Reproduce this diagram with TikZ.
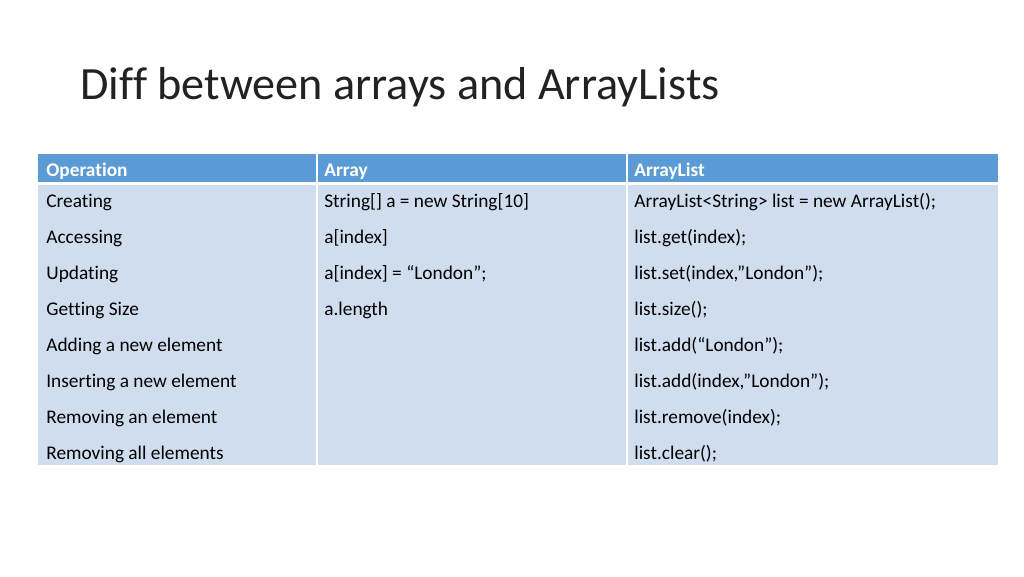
\documentclass[tikz,border=0pt]{standalone}
\usepackage{fontspec}
\setmainfont{Carlito}[Ligatures={NoCommon}]
\usepackage{tikz}
\usetikzlibrary{positioning}
\definecolor{headblue}{HTML}{5B9BD5}
\definecolor{bodyblue}{HTML}{D0DDEE}
\definecolor{titlegray}{HTML}{222222}
\tikzstyle{title} = [anchor=base west, inner sep=0pt, font=\fontsize{26.3}{31}\selectfont, text=titlegray]
\tikzstyle{head} = [anchor=base west, inner sep=0pt, font=\fontsize{11}{13}\selectfont\bfseries, text=white]
\tikzstyle{cell} = [anchor=base west, inner sep=0pt, font=\fontsize{11}{13}\selectfont, text=black]

\begin{document}
\begin{tikzpicture}[x=0.02cm,y=-0.02cm]
    \useasboundingbox (0,0) rectangle (1024,576);
    \fill[white] (0,0) rectangle (1024,576);
    % Title
    \node[title] (ttl) at (80,99) {Diff between arrays and ArrayLists};
    % Table cells
    \fill[headblue] (38,154) rectangle (316,182);
    \fill[headblue] (318,154) rectangle (626,182);
    \fill[headblue] (628,154) rectangle (998,182);
    \fill[bodyblue] (38,185) rectangle (316,465);
    \fill[bodyblue] (318,185) rectangle (626,465);
    \fill[bodyblue] (628,185) rectangle (998,465);
    % Header
    \node[head] (hop) at (46,176) {Operation};
    \node[head] (harr) at (324,176) {Array};
    \node[head] (hlst) at (634,176) {ArrayList};
    % Rows
    \foreach \op/\lst [count=\i] in {Creating/{ArrayList<String> list = new ArrayList();},
        Accessing/{list.get(index);},
        Updating/{list.set(index,”London”);},
        Getting Size/{list.size();},
        Adding a new element/{list.add(“London”);},
        Inserting a new element/{list.add(index,”London”);},
        Removing an element/{list.remove(index);},
        Removing all elements/{list.clear();}}
    {
        \node[cell] (op\i) at (46,171+36*\i) {\op};
        \node[cell] (lst\i) at (634,171+36*\i) {\lst};
    }
    \foreach \arr [count=\i] in {{String[] a = new String[10]}, {a[index]},
        {a[index] = “London”;}, {a.length}}
    {
        \node[cell] (arr\i) at (324,171+36*\i) {\arr};
    }
\end{tikzpicture}
\end{document}
